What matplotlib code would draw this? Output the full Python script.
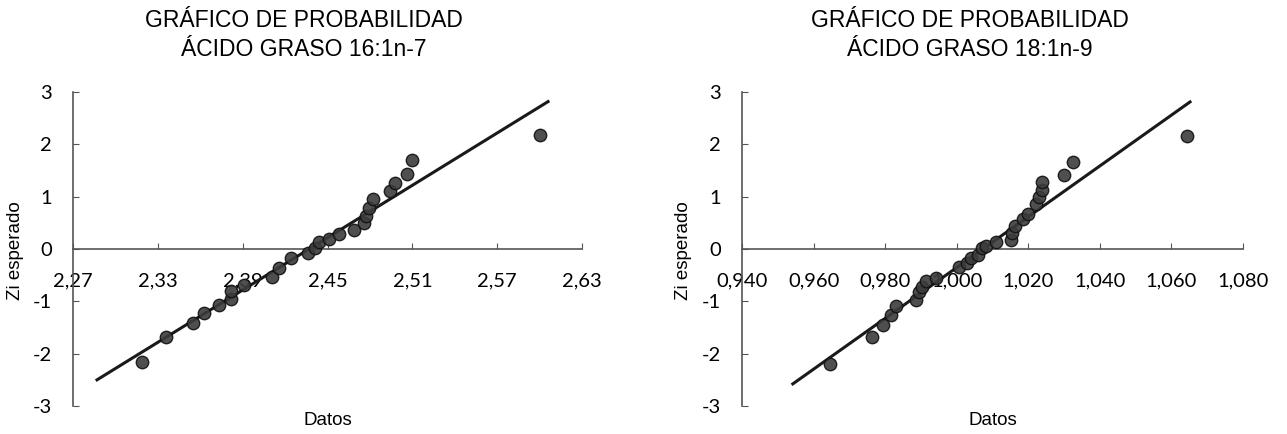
import matplotlib
matplotlib.use("Agg")
from matplotlib import pyplot as plt
import numpy as np

plt.rcParams['axes.unicode_minus'] = False
plt.rcParams['font.family'] = ['Lato', 'DejaVu Sans']

# 16:1n-7 datos y Zi esperado
x16 = [2.3185, 2.336, 2.355, 2.363, 2.373, 2.382, 2.382, 2.391, 2.411, 2.416,
       2.424, 2.436, 2.441, 2.444, 2.451, 2.458, 2.469, 2.476, 2.477, 2.479,
       2.482, 2.494, 2.498, 2.506, 2.510, 2.600]
z16 = [-2.16, -1.69, -1.42, -1.23, -1.07, -0.96, -0.81, -0.69, -0.53, -0.37,
       -0.17, -0.08, 0.02, 0.13, 0.19, 0.28, 0.37, 0.49, 0.63, 0.79,
       0.95, 1.11, 1.26, 1.44, 1.70, 2.17]
# recta normal teorica
media16, desv16 = 2.437, 0.060
recta16_x = [2.287, 2.606]

# 18:1n-9
x18 = [0.9645, 0.9762, 0.9793, 0.9816, 0.9831, 0.9886, 0.9894, 0.9903, 0.9914,
       0.9943, 1.0007, 1.0030, 1.0041, 1.0059, 1.0070, 1.0082, 1.0110, 1.0151,
       1.0155, 1.0163, 1.0186, 1.0198, 1.0221, 1.0230, 1.0237, 1.0238, 1.0301,
       1.0325, 1.0643]
z18 = [-2.19, -1.69, -1.45, -1.27, -1.08, -0.98, -0.82, -0.72, -0.61,
       -0.56, -0.34, -0.27, -0.17, -0.11, 0.02, 0.05, 0.13, 0.18,
       0.31, 0.44, 0.57, 0.66, 0.86, 0.99, 1.12, 1.28, 1.41,
       1.67, 2.15]
media18, desv18 = 1.0073, 0.0206
recta18_x = [0.9542, 1.0652]

ticks16 = [2.27, 2.33, 2.39, 2.45, 2.51, 2.57, 2.63]
ticks18 = [0.940, 0.960, 0.980, 1.000, 1.020, 1.040, 1.060, 1.080]
zticks = [-3, -2, -1, 0, 1, 2, 3]

titulos = ["GRÁFICO DE PROBABILIDAD\nÁCIDO GRASO 16:1n-7",
           "GRÁFICO DE PROBABILIDAD\nÁCIDO GRASO 18:1n-9"]

fig = plt.figure(figsize=(12.87, 4.34), dpi=100)

W, H = 1287.0, 434.0
ax1 = fig.add_axes([73 / W, 28 / H, 509 / W, 314 / H])
ax2 = fig.add_axes([742 / W, 28 / H, 501 / W, 314 / H])

def grafico(ax, x, z, media, desv, rx, ticks, decimales, titulo, tx):
    # ejes tipo Excel: eje x cruzando en cero
    for s in ['top', 'right']:
        ax.spines[s].set_visible(False)
    ax.spines['bottom'].set_position(('data', 0))
    for s in ['left', 'bottom']:
        ax.spines[s].set_color('#555555')
        ax.spines[s].set_linewidth(1.2)

    rx = np.array(rx)
    ax.plot(rx, (rx - media) / desv, color='#1a1a1a', lw=2.2, zorder=2)
    ax.scatter(x, z, s=80, color='#3c3c3c', edgecolor='#111111',
               linewidth=1.0, alpha=0.9, zorder=3)
    ax.set_xlim(ticks[0], ticks[-1])
    ax.set_ylim(-3, 3)
    ax.set_xticks(ticks)
    ax.set_xticklabels([f"{t:.{decimales}f}".replace('.', ',') for t in ticks])
    ax.set_yticks(zticks)
    ax.set_yticklabels([str(t) for t in zticks])
    ax.tick_params(axis='x', direction='in', length=4, color='#555555',
                   pad=17, labelsize=14.5)
    ax.tick_params(axis='y', direction='in', length=4, color='#555555',
                   pad=15, labelsize=14.5)

    fig.text(tx[1] / W, 1 - 251 / H, "Zi esperado", rotation=90, ha='center',
             va='center', fontfamily='Liberation Sans', fontsize=13.5)
    ax.text(0.5, -0.045, "Datos", transform=ax.transAxes, ha='center',
            va='center', fontfamily='Liberation Sans', fontsize=13.5)
    fig.text(tx[0] / W, 1 - 35 / H, titulo, ha='center', va='center',
             fontfamily='Liberation Sans', fontsize=16.5, linespacing=1.3)

grafico(ax1, x16, z16, media16, desv16, recta16_x, ticks16, 2, titulos[0], (304, 16))
grafico(ax2, x18, z18, media18, desv18, recta18_x, ticks18, 3, titulos[1], (970, 684))

fig.savefig("out.png", dpi=100)
